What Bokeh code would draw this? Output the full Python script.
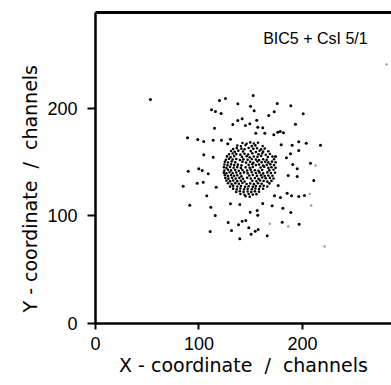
from bokeh.plotting import figure
from bokeh.models import LinearAxis, FixedTicker, Range1d, Label, Title
from bokeh.embed import file_html
from bokeh.resources import INLINE

# ---- data (channels) ----
x_ticks = [0, 100, 200]
y_ticks = [0, 100, 200]
panel_label = "BIC5 + CsI 5/1"

outer_x = [53.1, 152.4, 125.6, 119.8, 137.5, 175.6, 188.7, 112.1, 115.9, 121.4,
           149.8, 153.3, 172.7, 167.4, 200.7, 137.5, 141.7, 132.7, 144.9, 149.1,
           155.8, 193.2, 115.0, 156.8, 161.6, 154.9, 163.6, 172.3, 178.5, 181.6,
           88.9, 98.8, 104.6, 113.7, 121.7, 130.4, 127.8, 179.4, 190.0, 196.4,
           203.6, 217.4, 196.4, 188.4, 104.6, 113.7, 184.5, 207.7, 190.6, 194.9,
           89.6, 99.8, 103.1, 108.9, 186.2, 194.9, 210.9, 84.7, 98.3, 104.1,
           116.6, 185.2, 189.4, 196.4, 201.9, 172.9, 178.7, 107.5, 91.1, 111.4,
           130.4, 139.4, 161.6, 170.7, 181.0, 149.5, 156.2, 156.8, 188.7, 115.7,
           128.2, 138.2, 141.7, 145.2, 180.4, 196.8, 110.8, 131.4, 148.1, 154.3,
           157.2, 150.4, 165.9, 139.4, 176.1, 173.9, 176.5]
outer_y = [208.2, 211.9, 209.1, 207.2, 204.2, 204.5, 202.3, 198.6, 197.0, 195.2,
           201.9, 197.7, 196.7, 193.3, 194.9, 188.7, 190.2, 184.9, 184.0, 185.6,
           188.9, 185.2, 181.5, 182.4, 181.9, 176.9, 176.9, 175.4, 178.4, 177.2,
           172.6, 171.0, 169.1, 170.4, 170.4, 171.3, 167.0, 166.1, 165.7, 168.9,
           167.6, 165.7, 160.8, 157.7, 156.8, 154.6, 154.0, 149.0, 147.8, 143.8,
           141.5, 143.8, 142.2, 139.1, 137.5, 136.6, 132.9, 127.6, 130.4, 131.3,
           126.7, 121.1, 118.7, 118.0, 119.0, 118.7, 117.1, 118.7, 109.9, 108.1,
           111.2, 110.6, 111.5, 109.4, 107.2, 103.4, 105.0, 100.6, 103.2, 100.4,
           93.9, 91.7, 95.1, 95.7, 94.1, 92.3, 85.5, 86.4, 88.9, 85.8,
           87.4, 83.0, 81.5, 78.7, 177.8, 155.2, 128.3]

faint_x = [281.2, 221.3, 212.6, 207.0, 208.4, 168.4, 186.2]
faint_y = [240.7, 71.6, 146.8, 120.5, 109.7, 92.7, 90.1]

core_x = [142, 146, 149.5, 153, 157,
          137, 140.5, 145, 151, 154.5, 161.5,
          133, 136.5, 141, 144, 148, 152.5, 156, 160, 163.5,
          131, 134.5, 138, 142.5, 150, 155, 158.5, 162, 167,
          129, 132.5, 136, 140, 144, 147.5, 151.5, 157.5, 161, 164.5, 168.5,
          127, 130.5, 134, 141.5, 146, 149, 153, 156.5, 160, 166.5, 171,
          126, 129, 132.5, 136, 139.5, 143, 147, 151, 155, 158, 162, 165.5, 172.5,
          125, 128, 131.5, 135, 142, 145.5, 149.5, 152.5, 156.5, 160.5, 164, 167, 170.5, 174,
          124.5, 127.5, 131, 134, 137.5, 141, 148, 151.5, 155, 158, 162, 165.5, 169, 172.5,
          124, 126.5, 130, 133.5, 137, 140.5, 145, 149, 152, 159.5, 163, 167, 170, 174,
          124.5, 128, 131, 135, 138.5, 142, 146.5, 150, 154, 157.5, 161, 168, 172,
          124, 126.5, 129.5, 132.5, 136, 140, 143.5, 147, 151, 155, 158.5, 162, 166, 169.5, 173.5,
          125, 128, 131, 134, 137, 141, 148.5, 152, 156, 160, 163.5, 167, 171,
          125.5, 128.5, 132, 135.5, 139, 142.5, 146.5, 150, 154, 157.5, 161, 164.5, 168.5, 172,
          126.5, 130, 133, 137, 140.5, 144, 151.5, 155.5, 159, 162.5, 166, 170,
          128, 131.5, 135, 138.5, 142, 146, 149.5, 153, 157, 160.5, 168,
          130, 133, 137, 140.5, 144.5, 148, 152, 155, 159, 162.5, 166,
          133, 136.5, 140, 143.5, 147, 151, 154.5, 158, 162,
          136, 139.5, 143, 147, 150.5, 154, 158,
          140, 144, 148, 152, 155.5,
          145, 149]
core_y = [167.8, 167.0, 168.3, 167.2, 167.9,
          165.4, 164.6, 165.8, 164.8, 165.5, 164.9,
          162.2, 163.0, 162.4, 161.9, 163.1, 162.3, 162.8, 161.8, 162.6,
          160.3, 159.5, 160.6, 159.8, 160.2, 159.4, 160.5, 159.7, 160.1,
          157.2, 158.0, 157.4, 156.9, 157.8, 157.1, 158.1, 157.3, 157.9, 156.8, 157.5,
          155.3, 154.6, 155.5, 154.8, 155.4, 154.5, 155.2, 154.9, 155.6, 154.7, 155.1,
          152.2, 153.0, 152.4, 152.8, 151.9, 152.7, 152.1, 152.9, 152.3, 151.8, 152.6, 152.2, 152.7,
          150.3, 149.6, 150.5, 149.8, 150.4, 149.5, 150.2, 149.3, 150.6, 149.9, 150.3, 149.7, 150.4, 149.8,
          147.8, 147.1, 147.9, 147.2, 147.6, 146.9, 147.4, 148.0, 147.2, 147.7, 146.8, 147.5, 147.9, 147.2,
          145.2, 144.6, 145.5, 144.8, 145.3, 144.5, 145.1, 144.7, 145.4, 144.9, 145.6, 144.6, 145.2, 144.8,
          142.2, 142.9, 142.3, 142.7, 141.9, 142.6, 142.1, 142.8, 142.4, 141.8, 142.7, 142.3, 142.8,
          140.2, 139.6, 140.5, 139.8, 140.3, 139.5, 140.4, 139.7, 140.6, 139.9, 140.2, 139.5, 140.4, 139.8, 140.1,
          137.8, 137.1, 137.9, 137.3, 137.7, 136.9, 137.5, 138.0, 137.2, 137.8, 137.0, 137.6, 137.3,
          135.2, 134.6, 135.4, 134.7, 135.3, 134.5, 135.5, 134.8, 135.1, 134.4, 135.6, 134.9, 135.3, 134.7,
          132.8, 132.1, 132.9, 132.3, 132.7, 131.9, 132.6, 132.2, 132.9, 132.4, 131.8, 132.5,
          130.3, 129.6, 130.4, 129.8, 130.5, 129.7, 130.2, 129.5, 130.4, 129.9, 130.2,
          127.2, 127.9, 127.3, 127.8, 127.1, 127.6, 127.0, 127.8, 127.4, 127.9, 127.2,
          125.3, 124.7, 125.4, 124.6, 125.2, 124.8, 125.5, 124.9, 125.2,
          122.3, 122.9, 122.2, 122.7, 122.1, 122.8, 122.4,
          120.3, 119.7, 120.4, 119.8, 120.2,
          118.2, 117.8]

NB = "\u00a0"
x_title = "X - coordinate  /  channels".replace(" ", NB)
y_title = "Y - coordinate  /  channels".replace(" ", NB)

# ---- figure ----
p = figure(width=391, height=385, output_backend="svg", toolbar_location=None,
           x_range=Range1d(0, 286), y_range=Range1d(0, 289),
           min_border_left=95, min_border_right=0, min_border_top=12,
           min_border_bottom=62)
p.background_fill_color = "white"
p.border_fill_color = "white"
p.outline_line_color = None
p.grid.visible = False

p.scatter(core_x, core_y, size=2.6, color="black", line_color=None)
p.scatter(outer_x, outer_y, size=3.0, color="black", line_color=None)
p.scatter(faint_x, faint_y, size=2.4, color="#9a9a9a", line_color=None)

tick_font = "Liberation Sans"
label_font = "DejaVu Sans"

xa = p.xaxis[0]
xa.ticker = FixedTicker(ticks=x_ticks)
xa.axis_label = x_title
ya = p.yaxis[0]
ya.ticker = FixedTicker(ticks=y_ticks)

for ax in (xa, ya):
    ax.axis_line_width = 2.5
    ax.axis_line_color = "black"
    ax.major_tick_line_width = 2
    ax.major_tick_line_color = "black"
    ax.major_tick_in = 0
    ax.minor_tick_line_color = None
    ax.major_label_text_font = tick_font
    ax.major_label_text_font_size = "18px"
    ax.major_label_text_color = "black"
    ax.axis_label_text_font = label_font
    ax.axis_label_text_font_size = "19px"
    ax.axis_label_text_font_style = "normal"
    ax.axis_label_text_color = "black"

xa.major_tick_out = 6
xa.major_label_standoff = 7
xa.axis_label_standoff = 1
ya.major_tick_out = 8
ya.major_label_standoff = 10

top = LinearAxis(ticker=FixedTicker(ticks=[]), axis_line_width=3,
                 axis_line_color="black", major_tick_line_color=None,
                 minor_tick_line_color=None, major_label_text_font_size="0px")
p.add_layout(top, "above")

# rotated y-axis title in the left panel
p.add_layout(Title(text=y_title, align="left", offset=11, standoff=8,
                   text_font=label_font, text_font_size="19px",
                   text_font_style="normal", text_color="black"), "left")

p.add_layout(Label(x=162, y=265, text=panel_label, text_font=tick_font,
                   text_font_size="16px", text_color="black",
                   text_baseline="alphabetic"))

open("out.html", "w").write(file_html(p, INLINE))
